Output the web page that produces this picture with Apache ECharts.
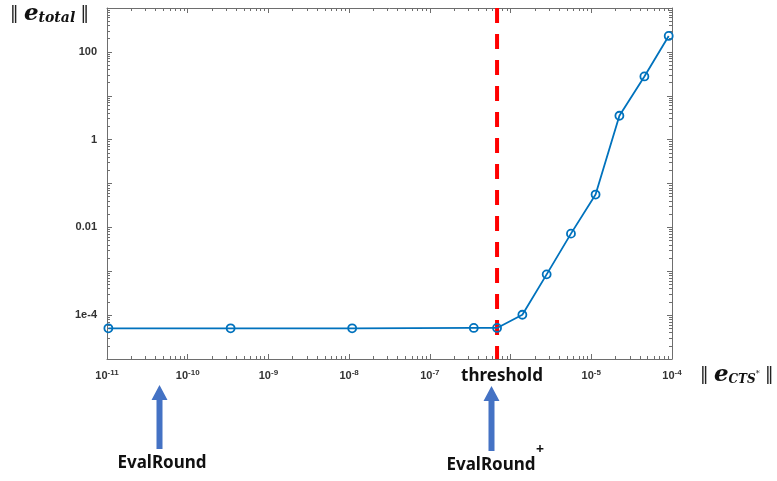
<!DOCTYPE html>
<html>
<head>
<meta charset="utf-8">
<script src="https://cdn.jsdelivr.net/npm/echarts@6/dist/echarts.min.js"></script>
<style>
html,body{margin:0;padding:0;background:#fff;}
#chart{width:777px;height:481px;}
</style>
</head>
<body>
<div id="chart"></div>
<script>
// ---- data ----
var xValues = [1.04e-11, 3.4e-10, 1.09e-8, 3.5e-7, 6.8e-7, 1.4e-6, 2.8e-6, 5.6e-6, 1.13e-5, 2.23e-5, 4.55e-5, 9.1e-5];
var yValues = [5.0e-5, 5.0e-5, 5.0e-5, 5.1e-5, 5.1e-5, 1.02e-4, 8.5e-4, 7.2e-3, 0.056, 3.5, 27.5, 231];
var thresholdX = 6.8e-7;
var xTickExponents = [-11, -10, -9, -8, -7, -6, -5, -4];
var xTickReplace = { '-6': '' }; // shown as "threshold" annotation
var yTickLabels = { '-4': '1e-4', '-2': '0.01', '0': '1', '2': '100' };
var xRange = [1e-11, 1e-4];
var yRange = [1e-5, 1e3];

var axisColor = '#6e6e6e';
var labelColor = '#333';

var chart = echarts.init(document.getElementById('chart'), null, { renderer: 'canvas' });

function expOf(v) { return Math.round(Math.log10(v)); }

function boxAxis(type, pos) {
  return {
    type: 'log', logBase: 10,
    min: type === 'x' ? xRange[0] : yRange[0],
    max: type === 'x' ? xRange[1] : yRange[1],
    position: pos,
    axisLine: { show: true, lineStyle: { color: axisColor, width: 1 } },
    axisTick: { show: true, inside: true, length: 5, lineStyle: { color: axisColor } },
    minorTick: { show: true, splitNumber: 9, length: 3, lineStyle: { color: axisColor } },
    splitLine: { show: false },
    axisLabel: { show: false }
  };
}

var xMain = boxAxis('x', 'bottom');
xMain.axisLabel = {
  show: true,
  margin: 10,
  formatter: function (v) {
    var e = expOf(v);
    if (xTickExponents.indexOf(e) < 0) return '';
    if (xTickReplace[String(e)] !== undefined) return xTickReplace[String(e)];
    return '{b|10}{s|' + e + '}';
  },
  rich: {
    b: { fontFamily: 'Liberation Sans', fontWeight: 'bold', fontSize: 11, color: labelColor },
    s: { fontFamily: 'Liberation Sans', fontWeight: 'bold', fontSize: 8, color: labelColor, verticalAlign: 'top', padding: [0, 0, 6, 0] }
  }
};
var yMain = boxAxis('y', 'left');
yMain.axisLabel = {
  show: true,
  margin: 10,
  fontFamily: 'Liberation Sans', fontWeight: 'bold', fontSize: 11, color: labelColor,
  formatter: function (v) {
    var t = yTickLabels[String(expOf(v))];
    return t === undefined ? '' : t;
  }
};

var option = {
  animation: false,
  backgroundColor: '#fff',
  grid: { left: 107, right: 105, top: 8, bottom: 122, containLabel: false },
  xAxis: [xMain, boxAxis('x', 'top')],
  yAxis: [yMain, boxAxis('y', 'right')],
  series: [{
    name: 'threshold',
    type: 'line',
    xAxisIndex: 0, yAxisIndex: 0,
    data: [[thresholdX, yRange[1]], [thresholdX, yRange[0]]],
    symbol: 'none',
    lineStyle: { color: '#ff0000', width: 4, type: [15, 11] },
    z: 2
  }, {
    name: 'etotal',
    type: 'line',
    xAxisIndex: 0, yAxisIndex: 0,
    data: xValues.map(function (x, i) { return [x, yValues[i]]; }),
    clip: false,
    symbol: 'circle',
    symbolSize: 8,
    lineStyle: { color: '#0072BD', width: 1.8 },
    itemStyle: { color: 'rgba(255,255,255,0)', borderColor: '#0072BD', borderWidth: 1.8 },
    z: 3
  }],
  graphic: [
    {
      type: 'text', left: 10, top: 3,
      style: {
        text: '{n|‖ }{e|e}{s|total}{n| ‖}',
        rich: {
          n: { fontFamily: 'DejaVu Sans', fontSize: 17, fill: '#222' },
          e: { fontFamily: 'DejaVu Serif', fontStyle: 'italic', fontWeight: 'bold', fontSize: 23, fill: '#111' },
          s: { fontFamily: 'DejaVu Serif', fontStyle: 'italic', fontWeight: 'bold', fontSize: 14, fill: '#111', padding: [8, 0, 0, 0] }
        }
      }
    },
    {
      type: 'text', left: 700, top: 364,
      style: {
        text: '{n|‖ }{e|e}{s|CTS}{t|*}{n| ‖}',
        rich: {
          n: { fontFamily: 'DejaVu Sans', fontSize: 17, fill: '#222' },
          e: { fontFamily: 'DejaVu Serif', fontStyle: 'italic', fontWeight: 'bold', fontSize: 23, fill: '#111' },
          s: { fontFamily: 'DejaVu Serif', fontStyle: 'italic', fontWeight: 'bold', fontSize: 12, fill: '#111', padding: [8, 0, 0, 0] },
          t: { fontFamily: 'DejaVu Serif', fontSize: 8, fill: '#111', padding: [0, 0, 4, 0] }
        }
      }
    },
    {
      type: 'text', x: 502, y: 376,
      style: {
        text: 'threshold', align: 'center', verticalAlign: 'middle',
        fontFamily: 'Noto Sans', fontWeight: 'bold', fontSize: 17, fill: '#111'
      }
    },
    {
      type: 'polygon',
      shape: { points: [[159.5, 385], [151.5, 400], [156.5, 400], [156.5, 449], [162.5, 449], [162.5, 400], [167.5, 400]] },
      style: { fill: '#4472C4' }
    },
    {
      type: 'polygon',
      shape: { points: [[491.5, 386], [483.5, 401], [488.5, 401], [488.5, 451], [494.5, 451], [494.5, 401], [499.5, 401]] },
      style: { fill: '#4472C4' }
    },
    {
      type: 'text', x: 162, y: 463,
      style: {
        text: 'EvalRound', align: 'center', verticalAlign: 'middle',
        fontFamily: 'Noto Sans', fontWeight: 'bold', fontSize: 17, fill: '#111'
      }
    },
    {
      type: 'text', x: 491, y: 465,
      style: {
        text: 'EvalRound', align: 'center', verticalAlign: 'middle',
        fontFamily: 'Noto Sans', fontWeight: 'bold', fontSize: 17, fill: '#111'
      }
    },
    {
      type: 'text', x: 540, y: 450,
      style: {
        text: '+', align: 'center', verticalAlign: 'middle',
        fontFamily: 'Noto Sans', fontWeight: 'bold', fontSize: 14, fill: '#111'
      }
    }
  ]
};
chart.setOption(option);
</script>
</body>
</html>
